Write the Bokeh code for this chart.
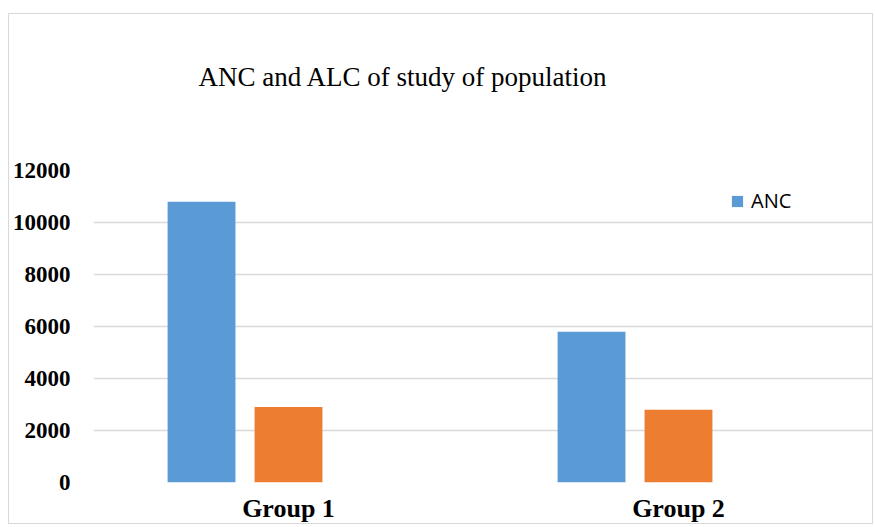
from bokeh.plotting import figure
from bokeh.models import FactorRange, FixedTicker, Legend, LegendItem, ColumnDataSource, Title
from bokeh.transform import dodge
from bokeh.embed import file_html
from bokeh.resources import INLINE

# ---- data ----
groups = ["Group 1", "Group 2"]
anc = [10800, 5800]
alc = [2900, 2800]
y_ticks = [0, 2000, 4000, 6000, 8000, 10000, 12000]
title_text = "ANC and ALC of study of population"

BLUE = "#5B9BD5"
ORANGE = "#ED7D31"
GRID = "#D9D9D9"

src = ColumnDataSource(dict(group=groups, anc=anc, alc=alc))

p = figure(
    x_range=FactorRange(*groups, range_padding=0),
    y_range=(0, 12000),
    width=865, height=511,
    output_backend="svg", toolbar_location=None,
    min_border_left=84, min_border_right=1,
    min_border_top=156, min_border_bottom=42,
)
p.margin = (13, 0, 0, 8)
p.styles = {"border": "1px solid #D9D9D9"}
p.outline_line_color = None
p.background_fill_color = "white"
p.border_fill_color = "white"

# real title (outer)
p.title.text = title_text
p.title.align = "left"
p.title.offset = 105
p.title.standoff = 0
p.title.text_font = "Liberation Serif"
p.title.text_font_size = "27px"
p.title.text_font_style = "normal"
p.title.text_color = "black"
# spacer between frame and title (stacked next to the frame)
p.add_layout(Title(text=" ", text_font_size="10px", standoff=66), "above")

r_anc = p.vbar(x=dodge("group", -0.223, range=p.x_range), top="anc", width=0.174,
               source=src, fill_color=BLUE, line_color=None)
r_alc = p.vbar(x=dodge("group", 0.0, range=p.x_range), top="alc", width=0.174,
               source=src, fill_color=ORANGE, line_color=None)

# axes
p.xaxis.axis_line_color = None
p.xaxis.major_tick_line_color = None
p.xaxis.minor_tick_line_color = None
p.xaxis.major_label_text_font = "Liberation Serif"
p.xaxis.major_label_text_font_style = "bold"
p.xaxis.major_label_text_font_size = "26px"
p.xaxis.major_label_text_color = "black"
p.xaxis.major_label_standoff = 5

p.yaxis.ticker = FixedTicker(ticks=y_ticks)
p.yaxis.axis_line_color = None
p.yaxis.major_tick_line_color = None
p.yaxis.minor_tick_line_color = None
p.yaxis.major_label_text_font = "Liberation Serif"
p.yaxis.major_label_text_font_style = "bold"
p.yaxis.major_label_text_font_size = "23px"
p.yaxis.major_label_text_color = "black"
p.yaxis.major_label_standoff = 17

p.xgrid.grid_line_color = None
p.ygrid.grid_line_color = GRID
p.ygrid.grid_line_width = 1.5

legend = Legend(items=[LegendItem(label="ANC", renderers=[r_anc])],
                location=(637, 268), padding=0, margin=0, border_line_color=None,
                background_fill_alpha=0, glyph_width=14, glyph_height=14,
                label_standoff=7, label_text_font="Open Sans",
                label_text_font_size="20px", label_text_color="black")
p.add_layout(legend, "center")

open("out.html", "w").write(file_html(p, INLINE))
